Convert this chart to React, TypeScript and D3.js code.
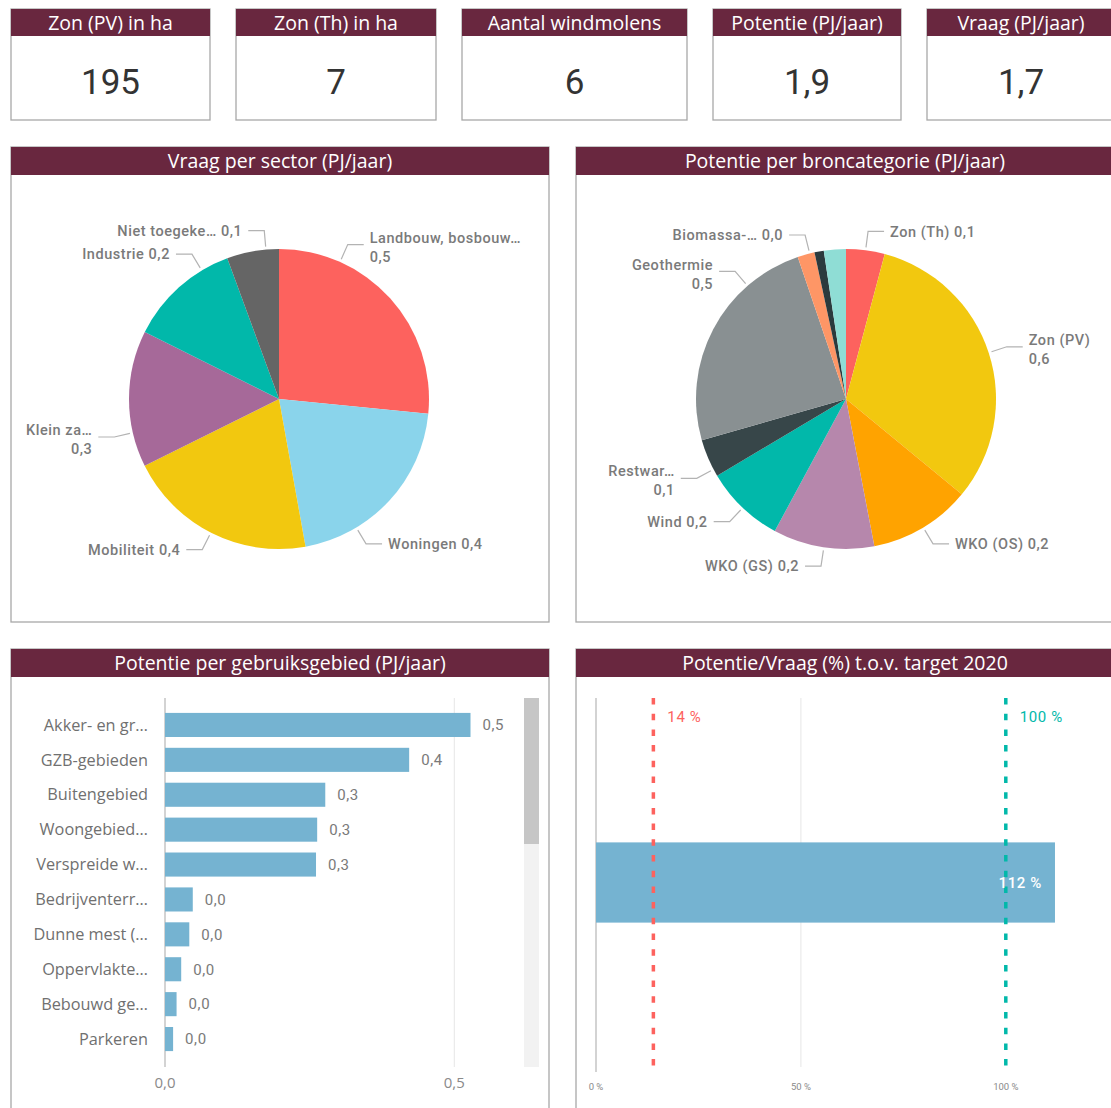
import React from "react";
import * as d3 from "d3";

// ---------- DATA ----------
const kpiTitles = ["Zon (PV) in ha", "Zon (Th) in ha", "Aantal windmolens", "Potentie (PJ/jaar)", "Vraag (PJ/jaar)"];
const kpiValues = ["195", "7", "6", "1,9", "1,7"];

const sectorNames = ["Landbouw, bosbouw…", "Woningen", "Mobiliteit", "Klein za…", "Industrie", "Niet toegeke…"];
const sectorValues = [0.455, 0.353, 0.351, 0.252, 0.206, 0.096];

const sourceNames = ["Zon (Th)", "Zon (PV)", "WKO (OS)", "WKO (GS)", "Wind", "Restwar…", "Geothermie", "Biomassa-…", "Overig", "Aquathermie"];
const sourceValues = [0.079, 0.604, 0.209, 0.207, 0.163, 0.078, 0.46, 0.035, 0.019, 0.045];

const areaNames = ["Akker- en gr…", "GZB-gebieden", "Buitengebied", "Woongebied…", "Verspreide w…", "Bedrijventerr…", "Dunne mest (…", "Oppervlakte…", "Bebouwd ge…", "Parkeren"];
const areaValues = [0.528, 0.422, 0.277, 0.263, 0.261, 0.048, 0.042, 0.028, 0.02, 0.014];
const areaTicks = [0, 0.5];

const ratioCategory = ["Potentie/Vraag"];
const ratioValue = [112];
const ratioTargets = [14, 100];
const ratioTicks = [0, 50, 100];

// ---------- STYLE / LAYOUT ----------
const sectorColors = ["#FD625E", "#8AD4EB", "#F2C80F", "#A66999", "#01B8AA", "#656565"];
const sourceColors = ["#FD625E", "#F2C80F", "#FFA300", "#B687AC", "#01B8AA", "#374649", "#899092", "#FE9666", "#2B3A3D", "#8FDDD5"];
const targetColors = ["#FD625E", "#01B8AA"];

// label anchor angles (deg) and whether value on second line; null = no label
const sectorLabelAngles = [24, 149, 207, 257, 329, 355];
const sectorTwoLine = [true, false, false, true, false, false];
const sourceLabelAngles = [7.5, 72, 149, 188.5, 223.5, 242, 319, 346, null, null];
const sourceTwoLine = [false, true, false, false, false, true, true, false, false, false];

const HEADER = "#69273F";
const FONT_UI = "'Open Sans', 'Noto Sans', sans-serif";
const FONT_DIN = "Roboto, 'DejaVu Sans', sans-serif";
const LABEL_GREY = "#7a7a7a";

const locale = d3.formatLocale({ decimal: ",", thousands: ".", grouping: [3], currency: ["€", ""] });
const fmt1 = locale.format(".1f");

const kpiX = [11, 236, 462, 713, 927];
const kpiW = [199, 200, 225, 188, 188];

function Panel({ x, y, w, h, title }: { x: number; y: number; w: number; h: number; title: string }) {
  return (
    <g>
      <rect x={x} y={y} width={w} height={h} fill="#fff" stroke="#a8a8a8" strokeWidth={1.3} />
      <rect x={x} y={y} width={w} height={28} fill={HEADER} />
      <text x={x + w / 2} y={y + 21} textAnchor="middle" fill="#fff" fontSize={19.5} fontFamily={FONT_UI}>
        {title}
      </text>
    </g>
  );
}

function Pie({
  cx, cy, r, names, values, colors, angles, twoLine,
}: {
  cx: number; cy: number; r: number; names: string[]; values: number[]; colors: string[];
  angles: (number | null)[]; twoLine: boolean[];
}) {
  const arcs = d3.pie<number>().sort(null).value((d) => d)(values);
  const arc = d3.arc<d3.PieArcDatum<number>>().innerRadius(0).outerRadius(r);
  const pt = (deg: number, R: number): [number, number] => {
    const a = (deg * Math.PI) / 180;
    return [cx + R * Math.sin(a), cy - R * Math.cos(a)];
  };
  const lblProps = { fontFamily: FONT_DIN, fontWeight: 500, fontSize: 14.5, letterSpacing: 0.55, fill: LABEL_GREY };
  return (
    <g>
      {arcs.map((a, i) => (
        <path key={i} d={arc(a) || ""} transform={`translate(${cx},${cy})`} fill={colors[i]} />
      ))}
      {arcs.map((a, i) => {
        const ang = angles[i];
        if (ang == null) return null;
        const p0 = pt(ang, r + 3);
        const p1 = pt(ang, r + 19);
        const right = p1[0] > cx;
        const hx = p1[0] + (right ? 16 : -16);
        const tx = hx + (right ? 6 : -6);
        const anchor = right ? "start" : "end";
        const val = fmt1(values[i]);
        return (
          <g key={"l" + i}>
            <polyline points={`${p0[0]},${p0[1]} ${p1[0]},${p1[1]} ${hx},${p1[1]}`} fill="none" stroke="#b3b3b3" strokeWidth={1.2} />
            {twoLine[i] ? (
              <text x={tx} textAnchor={anchor} {...lblProps}>
                <tspan x={tx} y={p1[1] - 7} dy="0.35em">{names[i]}</tspan>
                <tspan x={tx} y={p1[1] + 12} dy="0.35em">{val}</tspan>
              </text>
            ) : (
              <text x={tx} y={p1[1]} dy="0.35em" textAnchor={anchor} {...lblProps}>
                {names[i] + " " + val}
              </text>
            )}
          </g>
        );
      })}
    </g>
  );
}

function BarChart() {
  const x = d3.scaleLinear().domain([0, 0.5]).range([165, 454.3]);
  const y = d3.scaleBand<string>().domain(areaNames).range([707.5, 1056.5]).paddingInner(0.31).paddingOuter(0.155);
  const top = 698, bottom = 1067;
  return (
    <g>
      {areaTicks.map((t) => (
        <line key={t} x1={x(t)} x2={x(t)} y1={top} y2={bottom} stroke={t === 0 ? "#c4c4c4" : "#e6e6e6"} strokeWidth={t === 0 ? 1.5 : 1} />
      ))}
      {areaNames.map((n, i) => (
        <g key={n}>
          <rect x={x(0)} y={y(n)!} width={x(areaValues[i]) - x(0)} height={y.bandwidth()} fill="#75B3D1" />
          <text x={148} y={y(n)! + y.bandwidth() / 2} dy="0.35em" textAnchor="end" fontFamily={FONT_UI} fontSize={16.3} fill="#707070">
            {n}
          </text>
          <text x={x(areaValues[i]) + 12} y={y(n)! + y.bandwidth() / 2} dy="0.35em" fontFamily={FONT_DIN} fontSize={15} letterSpacing={0.6} fill="#7a7a7a">
            {fmt1(areaValues[i])}
          </text>
        </g>
      ))}
      {areaTicks.map((t) => (
        <text key={"t" + t} x={x(t)} y={1083} dy="0.35em" textAnchor="middle" fontFamily={FONT_UI} fontSize={15} fill="#8a8a8a">
          {fmt1(t)}
        </text>
      ))}
      <rect x={524} y={top} width={15} height={bottom - top} fill="#f2f2f2" />
      <rect x={524} y={top} width={15} height={146} fill="#c6c6c6" />
    </g>
  );
}

function BulletChart() {
  const x = d3.scaleLinear().domain([0, 100]).range([596, 1005.8]);
  const y = d3.scaleBand<string>().domain(ratioCategory).range([698, 1067]).paddingInner(0).paddingOuter(1.8);
  const top = 698, bottom = 1067;
  return (
    <g>
      <line x1={x(50)} x2={x(50)} y1={top} y2={bottom} stroke="#e6e6e6" strokeWidth={1} />
      <line x1={x(0)} x2={x(0)} y1={top} y2={1072} stroke="#c4c4c4" strokeWidth={1.5} />
      {ratioCategory.map((c, i) => (
        <g key={c}>
          <rect x={x(0)} y={y(c)!} width={x(ratioValue[i]) - x(0)} height={y.bandwidth()} fill="#75B3D1" />
        </g>
      ))}
      {ratioTargets.map((t, i) => (
        <g key={t}>
          <line x1={x(t)} x2={x(t)} y1={top} y2={bottom} stroke={targetColors[i]} strokeWidth={3.5} strokeDasharray="6.5 9.2" />
          <text x={x(t) + 14} y={717} dy="0.35em" fontFamily={FONT_DIN} fontSize={15} letterSpacing={0.6} fill={targetColors[i]}>
            {t + " %"}
          </text>
        </g>
      ))}
      {ratioCategory.map((c, i) => (
        <text key={"v" + c} x={x(ratioValue[i]) - 13} y={y(c)! + y.bandwidth() / 2} dy="0.35em" textAnchor="end" fontFamily={FONT_DIN} fontWeight={500} fontSize={15} letterSpacing={0.6} fill="#fff">
          {ratioValue[i] + " %"}
        </text>
      ))}
      {ratioTicks.map((t) => (
        <text key={"tk" + t} x={x(t)} y={1087} dy="0.35em" textAnchor="middle" fontFamily={FONT_DIN} fontSize={9.5} fill="#8a8a8a">
          {t + " %"}
        </text>
      ))}
    </g>
  );
}

export default function App() {
  return (
    <svg width={1111} height={1108} style={{ position: "absolute", left: 0, top: 0, background: "#fff" }}>
      <rect x={0} y={0} width={1111} height={1108} fill="#fff" />
      {kpiTitles.map((t, i) => (
        <g key={t}>
          <rect x={kpiX[i]} y={9} width={kpiW[i]} height={111} fill="#fff" stroke="#a8a8a8" strokeWidth={1.3} />
          <rect x={kpiX[i]} y={9} width={kpiW[i]} height={27} fill={HEADER} />
          <text x={kpiX[i] + kpiW[i] / 2} y={29.5} textAnchor="middle" fill="#fff" fontSize={19.5} fontFamily={FONT_UI}>
            {t}
          </text>
          <text x={kpiX[i] + kpiW[i] / 2} y={94} textAnchor="middle" fill="#333" fontSize={35} fontFamily={FONT_DIN}>
            {kpiValues[i]}
          </text>
        </g>
      ))}
      <Panel x={11} y={147} w={538} h={475} title="Vraag per sector (PJ/jaar)" />
      <Panel x={576} y={147} w={538} h={475} title="Potentie per broncategorie (PJ/jaar)" />
      <Panel x={11} y={649} w={538} h={470} title="Potentie per gebruiksgebied (PJ/jaar)" />
      <Panel x={576} y={649} w={538} h={470} title="Potentie/Vraag (%) t.o.v. target 2020" />
      <Pie cx={279} cy={399} r={150} names={sectorNames} values={sectorValues} colors={sectorColors} angles={sectorLabelAngles} twoLine={sectorTwoLine} />
      <Pie cx={846} cy={399} r={150} names={sourceNames} values={sourceValues} colors={sourceColors} angles={sourceLabelAngles} twoLine={sourceTwoLine} />
      <BarChart />
      <BulletChart />
    </svg>
  );
}
